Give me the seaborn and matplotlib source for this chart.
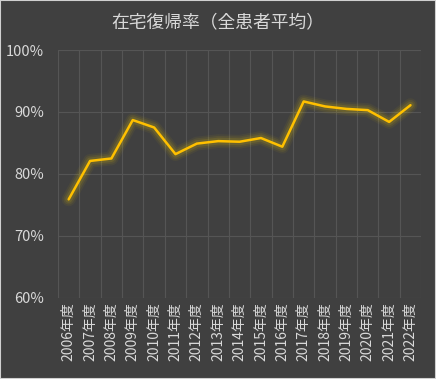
import matplotlib
matplotlib.use("Agg")
import matplotlib.pyplot as plt
import seaborn as sns
import pandas as pd
import numpy as np
from matplotlib.ticker import PercentFormatter, FixedLocator

years = ["2006年度", "2007年度", "2008年度", "2009年度", "2010年度", "2011年度",
         "2012年度", "2013年度", "2014年度", "2015年度", "2016年度", "2017年度",
         "2018年度", "2019年度", "2020年度", "2021年度", "2022年度"]
rate = [75.9, 82.1, 82.5, 88.7, 87.5, 83.2, 84.9, 85.3, 85.2, 85.8, 84.4,
        91.7, 90.9, 90.5, 90.3, 88.4, 91.1]
yticks = [60, 70, 80, 90, 100]

BG = "#404040"
TXT = "#d9d9d9"
GOLD = "#ffc000"

sns.set_style("dark")
plt.rcParams["font.family"] = ["Noto Sans CJK JP", "DejaVu Sans"]

df = pd.DataFrame({"year": years, "rate": rate})

fig = plt.figure(figsize=(4.36, 3.79), dpi=100, facecolor=BG)
fig.patches.append(plt.Rectangle((0, 0), 1, 1, transform=fig.transFigure,
                                 fill=False, edgecolor="#d0d0d0", linewidth=1.5))
ax = fig.add_axes([0.133, 0.214, 0.833, 0.654])
ax.set_facecolor(BG)

# glow
for lw, a in [(10, 0.05), (7.5, 0.08), (5, 0.12)]:
    sns.lineplot(data=df, x="year", y="rate", color="#f2d000", linewidth=lw, alpha=a, ax=ax, sort=False)
sns.lineplot(data=df, x="year", y="rate", color=GOLD, linewidth=1.8, ax=ax, sort=False)

ax.set_xlim(-0.5, len(years) - 0.5)
ax.set_ylim(60, 100)
ax.set_yticks(yticks)
ax.yaxis.set_major_formatter(PercentFormatter(decimals=0))
ax.xaxis.set_minor_locator(FixedLocator(np.arange(-0.5, len(years), 1.0)))
ax.grid(False)
ax.grid(True, which="minor", axis="x", color="#555555", linewidth=0.8)
ax.grid(True, which="major", axis="y", color="#555555", linewidth=0.8)
ax.tick_params(axis="x", which="both", length=0, labelsize=10, colors=TXT, rotation=90, pad=3)
ax.tick_params(axis="y", length=0, labelsize=10.5, colors=TXT, pad=10)
for s in ax.spines.values():
    s.set_visible(False)
ax.set_xlabel("")
ax.set_ylabel("")

fig.text(0.5, 0.942, "在宅復帰率（全患者平均）", ha="center", va="center",
         fontsize=12.8, color=TXT)

fig.savefig("out.png", dpi=100, facecolor=BG)
